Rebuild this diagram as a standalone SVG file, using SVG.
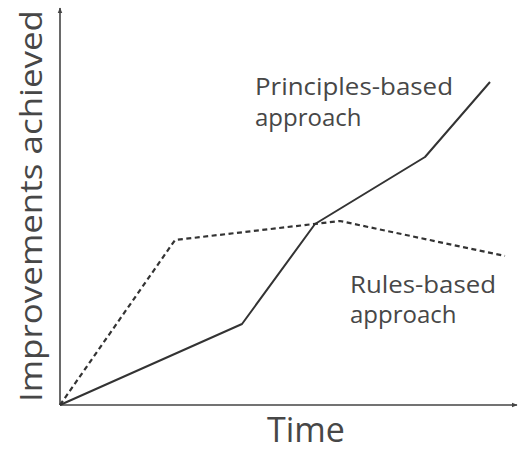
<svg xmlns="http://www.w3.org/2000/svg" width="518" height="452" viewBox="0 0 518 452">
<style>
.lbl{font-family:"Open Sans","Liberation Sans",sans-serif;fill:#474747;font-weight:400}
.ax{stroke:#444;stroke-width:1.6;fill:none}
.solid{stroke:#333;stroke-width:2;fill:none;stroke-linejoin:round}
.dash{stroke:#333;stroke-width:2.2;fill:none;stroke-dasharray:5 3.5}
</style>
<defs>
<marker id="ah" viewBox="0 0 10 10" refX="9" refY="5" markerWidth="6" markerHeight="6" orient="auto" markerUnits="userSpaceOnUse">
<path d="M0,1 L10,5 L0,9 Z" fill="#444"/>
</marker>
</defs>
<rect width="518" height="452" fill="#fff"/>
<g id="axes">
<line class="ax" x1="60" y1="405" x2="60" y2="8" marker-end="url(#ah)"/>
<line class="ax" x1="60" y1="405" x2="517" y2="405" marker-end="url(#ah)"/>
</g>
<g id="connectors">
<polyline class="solid" points="60,405 242,324 315,224 425,157 490,82"/>
<polyline class="dash" points="60,405 175,240 340,221 505,256"/>
</g>
<g id="y-label"><text class="lbl" font-size="31" transform="translate(42,402) rotate(-90)" textLength="392" lengthAdjust="spacingAndGlyphs">Improvements achieved</text></g>
<g id="x-label"><text class="lbl" font-size="34" x="306" y="442" text-anchor="middle" textLength="78" lengthAdjust="spacingAndGlyphs">Time</text></g>
<g id="principles"><text class="lbl" font-size="24" x="255" y="95" textLength="198" lengthAdjust="spacingAndGlyphs">Principles-based</text><text class="lbl" font-size="24" x="255" y="126">approach</text></g>
<g id="rules"><text class="lbl" font-size="24" x="350" y="293" textLength="146" lengthAdjust="spacingAndGlyphs">Rules-based</text><text class="lbl" font-size="24" x="350" y="323">approach</text></g>
</svg>
